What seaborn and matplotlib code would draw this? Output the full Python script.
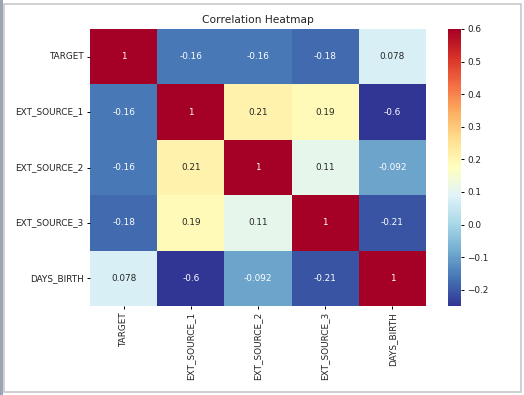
import matplotlib
matplotlib.use("Agg")
import matplotlib.pyplot as plt
import seaborn as sns
import pandas as pd
import numpy as np
from matplotlib.patches import Rectangle

labels = ["TARGET", "EXT_SOURCE_1", "EXT_SOURCE_2", "EXT_SOURCE_3", "DAYS_BIRTH"]
row_target = [1, -0.16, -0.16, -0.18, 0.078]
row_ext1 = [-0.16, 1, 0.21, 0.19, -0.6]
row_ext2 = [-0.16, 0.21, 1, 0.11, -0.092]
row_ext3 = [-0.18, 0.19, 0.11, 1, -0.21]
row_days = [0.078, -0.6, -0.092, -0.21, 1]

corr = pd.DataFrame([row_target, row_ext1, row_ext2, row_ext3, row_days],
                    index=labels, columns=labels)

W, H = 524, 395
fig = plt.figure(figsize=(W / 100, H / 100), dpi=100)

def ax_rect(x0, y0, x1, y1):
    return [x0 / W, 1 - y1 / H, (x1 - x0) / W, (y1 - y0) / H]

ax = fig.add_axes(ax_rect(90, 29, 426, 306))
cax = fig.add_axes(ax_rect(448, 29, 461, 306))

sns.heatmap(corr, cmap=plt.cm.RdYlBu_r, vmin=-0.25, vmax=0.6, annot=True,
            annot_kws={"fontsize": 6.4}, ax=ax, cbar_ax=cax)
ax.set_title("Correlation Heatmap", fontsize=7.7, pad=4, color="#222222")
ax.tick_params(labelsize=6.4, length=2.5, width=0.7, pad=2, labelcolor="#222222")
ax.set_xticklabels(labels, rotation=90)
ax.set_yticklabels(labels, rotation=0)
cax.tick_params(labelsize=6.4, length=2.5, width=0.7, pad=2, labelcolor="#222222")

# screenshot frame
fig.patches.append(Rectangle((0, 0), 3 / W, 1, transform=fig.transFigure,
                             facecolor="#9aa6b8", edgecolor="none", zorder=0))
fig.patches.append(Rectangle((3.5 / W, 3.5 / H), (521 - 3.5) / W, (391.5 - 3.5) / H,
                             transform=fig.transFigure, facecolor="none",
                             edgecolor="#c8c8c8", linewidth=1.2, zorder=5))

fig.savefig("out.png", dpi=100)
